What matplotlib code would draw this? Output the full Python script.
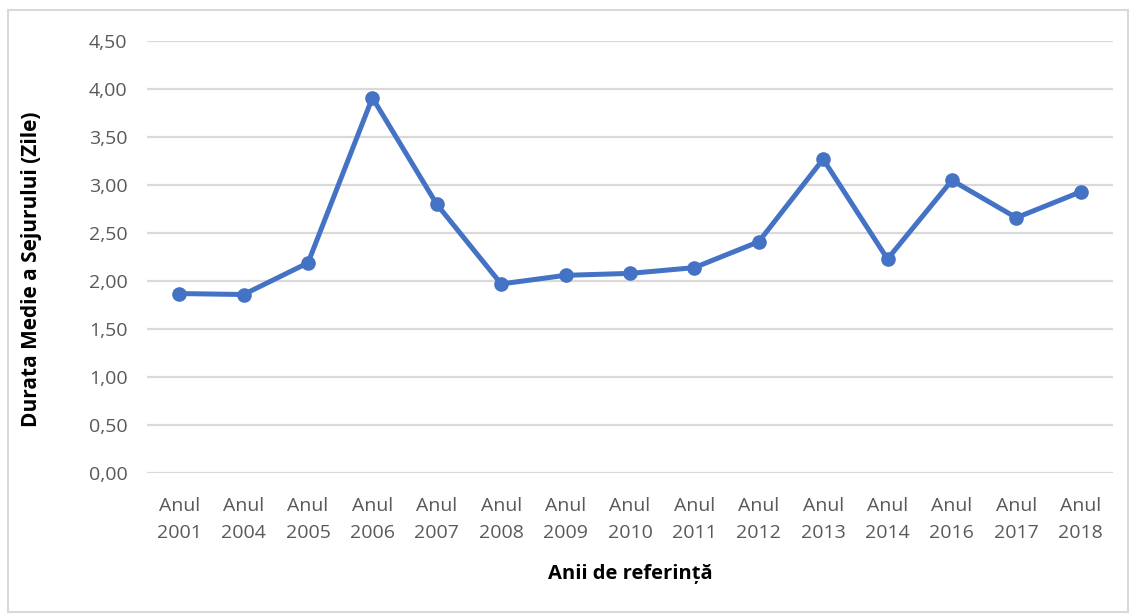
import numpy as np
import matplotlib.pyplot as plt
from matplotlib.patches import Rectangle

# Anii si durata medie a sejurului (zile)
years = ["2001", "2004", "2005", "2006", "2007", "2008", "2009", "2010",
         "2011", "2012", "2013", "2014", "2016", "2017", "2018"]
durata = [1.87, 1.86, 2.19, 3.91, 2.80, 1.97, 2.06, 2.08,
          2.14, 2.41, 3.27, 2.23, 3.05, 2.66, 2.93]
y_ticks = [0, 0.5, 1.0, 1.5, 2.0, 2.5, 3.0, 3.5, 4.0, 4.5]

plt.rcParams['font.family'] = ['Open Sans', 'DejaVu Sans']

fig = plt.figure(figsize=(11.31, 6.14), dpi=100)
ax = fig.add_axes([0.130, 0.2296, 0.854, 0.7034])

x = np.arange(len(years))
ax.plot(x, durata, color='#4472C4', linewidth=3.6, marker='o',
        markersize=9.5, solid_capstyle='round', zorder=3)

ax.set_xlim(-0.5, len(years) - 0.5)
ax.set_ylim(0, 4.5)
ax.set_yticks(y_ticks)
ax.set_yticklabels([f"{v:.2f}".replace('.', ',') for v in y_ticks])
ax.set_xticks(x)
ax.set_xticklabels([f"Anul\n{y}" for y in years], linespacing=1.65)

ax.grid(axis='y', color='#D9D9D9', linewidth=1.6, zorder=0)
ax.set_axisbelow(True)
for s in ax.spines.values():
    s.set_visible(False)
ax.tick_params(length=0, labelsize=14, labelcolor='#595959')
ax.tick_params(axis='y', pad=14)
ax.tick_params(axis='x', pad=17)

ax.set_xlabel('Anii de referință', fontsize=14.5, fontweight='bold', labelpad=16)
ax.set_ylabel('Durata Medie a Sejurului (Zile)', fontsize=15, fontweight='bold')
ax.yaxis.set_label_coords(-0.109, 0.472)

# chenarul graficului
fig.patches.append(Rectangle((0.007, 0.003), 0.99, 0.98, transform=fig.transFigure,
                             fill=False, edgecolor='#D9D9D9', linewidth=1.5))

fig.savefig('out.png', dpi=100)
